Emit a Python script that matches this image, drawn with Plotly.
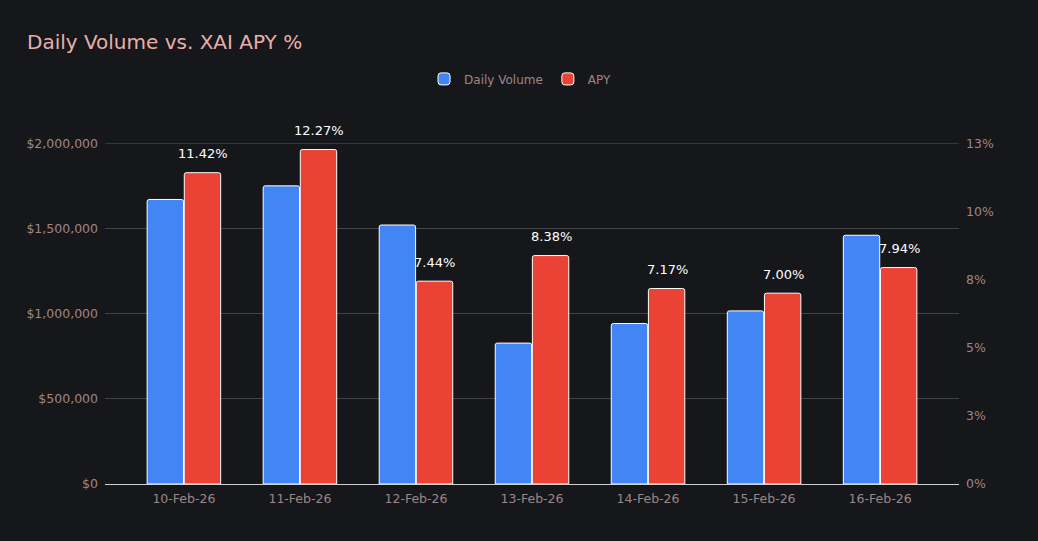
import plotly.graph_objects as go

dates = ["10-Feb-26", "11-Feb-26", "12-Feb-26", "13-Feb-26", "14-Feb-26", "15-Feb-26", "16-Feb-26"]
daily_volume = [1670000, 1750000, 1520000, 827000, 942000, 1016000, 1460000]
apy = [11.42, 12.27, 7.44, 8.38, 7.17, 7.00, 7.94]
apy_labels = ["11.42%", "12.27%", "7.44%", "8.38%", "7.17%", "7.00%", "7.94%"]

vol_ticks = [0, 500000, 1000000, 1500000, 2000000]
vol_ticktext = ["$0", "$500,000", "$1,000,000", "$1,500,000", "$2,000,000"]
apy_ticks = [0, 2.5, 5, 7.5, 10, 12.5]
apy_ticktext = ["0%", "3%", "5%", "8%", "10%", "13%"]

BG = "#16171b"
TICK = "#9e8686"
GRID = "#444448"
FONT = "DejaVu Sans"

fig = go.Figure()
fig.add_trace(go.Bar(
    x=dates, y=daily_volume, name="Daily Volume",
    marker=dict(color="#4285f4", line=dict(color="#ffffff", width=1)),
    offsetgroup="a", yaxis="y",
))
fig.add_trace(go.Bar(
    x=dates, y=apy, name="APY",
    marker=dict(color="#ea4335", line=dict(color="#ffffff", width=1)),
    offsetgroup="b", yaxis="y2",
))

for d, v, t in zip(dates, apy, apy_labels):
    fig.add_annotation(
        x=d, y=v, xref="x", yref="y2", text=t, showarrow=False,
        xshift=19, yshift=19, yanchor="middle",
        font=dict(color="#ffffff", size=13, family=FONT),
    )

# top gridline (plotly omits the grid line sitting on the plot edge)
fig.add_shape(type="line", xref="paper", yref="y", x0=0, x1=1,
              y0=vol_ticks[-1], y1=vol_ticks[-1],
              line=dict(color=GRID, width=1), layer="below")

fig.update_layout(
    width=1038, height=541,
    paper_bgcolor=BG, plot_bgcolor=BG,
    font=dict(family=FONT, color=TICK, size=12),
    title=dict(text="Daily Volume vs. XAI APY %", x=0.026, xanchor="left",
               y=0.922, yanchor="middle",
               font=dict(size=20, color="#e6b0aa", family=FONT)),
    legend=dict(orientation="h", x=0.486, xanchor="center", y=1.188, yanchor="middle",
                font=dict(size=12, color=TICK, family=FONT), itemwidth=30),
    margin=dict(l=105, r=79, t=143, b=57),
    barmode="group", bargap=0.36, bargroupgap=0.02,
    barcornerradius=2,
    xaxis=dict(range=[-0.68, 6.68], showgrid=False, showline=True,
               linecolor="#d0d0d0", linewidth=1, ticks="", ticklabelstandoff=3,
               tickfont=dict(size=12.5, color=TICK)),
    yaxis=dict(range=[0, 2001500], tickvals=vol_ticks, ticktext=vol_ticktext,
               showgrid=True, gridcolor=GRID, gridwidth=1, zeroline=False,
               ticks="", ticklabelstandoff=6, tickfont=dict(size=12.5, color=TICK)),
    yaxis2=dict(range=[0, 12.509], tickvals=apy_ticks, ticktext=apy_ticktext,
                overlaying="y", side="right", showgrid=False, zeroline=False,
                ticks="", ticklabelstandoff=6, tickfont=dict(size=12.5, color=TICK)),
)

fig.write_html(
    "out.html",
    config={"displayModeBar": False},
    post_script="document.body.style.margin='0';document.body.style.background='#16171b';",
)
